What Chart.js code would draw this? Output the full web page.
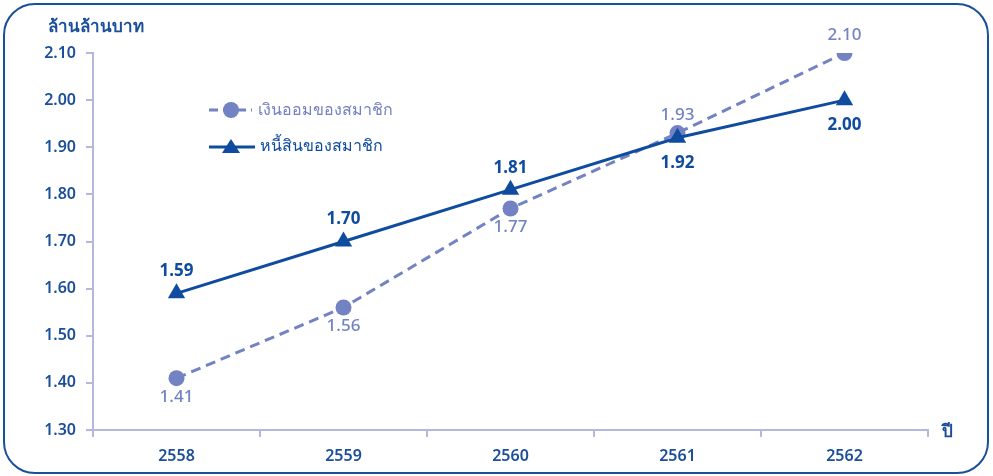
<!DOCTYPE html>
<html>
<head>
<meta charset="utf-8">
<script src="https://cdn.jsdelivr.net/npm/chart.js@4.4.1/dist/chart.umd.min.js"></script>
<style>
  html, body { margin: 0; padding: 0; background: #fff; }
  #frame {
    position: absolute; left: 3px; top: 3px; width: 982px; height: 467px;
    border: 2.5px solid #1a4f9c; border-radius: 32px;
  }
  #wrap { position: absolute; left: 0; top: 0; width: 993px; height: 476px; }
</style>
</head>
<body>
<div id="frame"></div>
<div id="wrap"><canvas id="chart"></canvas></div>
<script>
const years = ['2558', '2559', '2560', '2561', '2562'];
const savings = [1.41, 1.56, 1.77, 1.93, 2.10];
const debts = [1.59, 1.70, 1.81, 1.92, 2.00];
const savingsLabel = 'เงินออมของสมาชิก';
const debtsLabel = 'หนี้สินของสมาชิก';
// label above (-1) or below (+1) each point
const savingsLabelSide = [1, 1, 1, -1, -1];
const debtsLabelSide = [-1, -1, -1, 1, 1];

const C1 = '#7282c2';
const C2 = '#0f4ca0';
const TXT = '#1c4f9a';
const AXIS = '#b4b8dc';
const FONT = "'Noto Sans', 'Open Sans', sans-serif";

const extras = {
  id: 'extras',
  afterDatasetsDraw(chart) {
    const ctx = chart.ctx;
    ctx.save();
    // data labels
    const sides = [savingsLabelSide, debtsLabelSide];
    const gaps = [{ up: 18, down: 19 }, { up: 22, down: 25 }];
    chart.data.datasets.forEach((ds, i) => {
      const meta = chart.getDatasetMeta(i);
      ctx.fillStyle = i === 0 ? C1 : C2;
      ctx.font = (i === 0 ? '500 ' : 'bold ') + '17px ' + FONT;
      ctx.textAlign = 'center';
      ctx.textBaseline = 'middle';
      meta.data.forEach((pt, j) => {
        const s = sides[i][j];
        const dy = s > 0 ? gaps[i].down : -gaps[i].up;
        ctx.fillText(ds.data[j].toFixed(2), pt.x, pt.y + dy);
      });
    });

    // legend
    ctx.lineWidth = 3;
    ctx.strokeStyle = C1;
    ctx.setLineDash([9, 5]);
    ctx.beginPath(); ctx.moveTo(209, 110); ctx.lineTo(252, 110); ctx.stroke();
    ctx.setLineDash([]);
    ctx.fillStyle = C1;
    ctx.beginPath(); ctx.arc(231, 110, 8, 0, Math.PI * 2); ctx.fill();
    ctx.strokeStyle = C2;
    ctx.beginPath(); ctx.moveTo(209, 147); ctx.lineTo(255, 147); ctx.stroke();
    ctx.fillStyle = C2;
    ctx.beginPath(); ctx.moveTo(231, 139); ctx.lineTo(240, 153); ctx.lineTo(222, 153); ctx.closePath(); ctx.fill();
    ctx.font = '16px ' + FONT;
    ctx.textAlign = 'left';
    ctx.textBaseline = 'middle';
    ctx.fillStyle = C1;
    ctx.fillText(savingsLabel, 258, 110);
    ctx.fillStyle = C2;
    ctx.fillText(debtsLabel, 260, 146);

    // axis titles
    ctx.fillStyle = TXT;
    ctx.font = 'bold 17px ' + FONT;
    ctx.fillText('ล้านล้านบาท', 48, 27);
    ctx.fillText('ปี', 942, 432);
    ctx.restore();
  }
};

new Chart(document.getElementById('chart'), {
  type: 'line',
  data: {
    labels: years,
    datasets: [{
      label: savingsLabel,
      data: savings,
      order: 2,
      borderColor: C1,
      backgroundColor: C1,
      borderWidth: 3,
      borderDash: [10, 6],
      pointStyle: 'circle',
      pointRadius: 8,
      pointBorderWidth: 0,
      pointHoverRadius: 8,
      tension: 0
    }, {
      label: debtsLabel,
      data: debts,
      order: 1,
      borderColor: C2,
      backgroundColor: C2,
      borderWidth: 3,
      pointStyle: 'triangle',
      pointRadius: 10,
      pointBorderWidth: 0,
      pointHoverRadius: 10,
      tension: 0
    }]
  },
  options: {
    responsive: true,
    maintainAspectRatio: false,
    animation: false,
    layout: { padding: { left: 0, top: 53, right: 65, bottom: 0 } },
    scales: {
      x: {
        offset: true,
        afterFit: s => { s.height = 46; },
        grid: { offset: true, drawOnChartArea: false, tickLength: 7, color: AXIS, lineWidth: 2 },
        border: { color: AXIS, width: 2 },
        ticks: { color: TXT, font: { family: FONT, size: 16, weight: '600' }, padding: 10 }
      },
      y: {
        min: 1.3,
        max: 2.1,
        afterFit: s => { s.width = 93; },
        grid: { drawOnChartArea: false, tickLength: 7, color: AXIS, lineWidth: 2 },
        border: { color: AXIS, width: 2 },
        ticks: {
          stepSize: 0.1,
          color: TXT,
          font: { family: FONT, size: 16, weight: '600' },
          padding: 10,
          callback: v => v.toFixed(2)
        }
      }
    },
    plugins: {
      legend: { display: false },
      tooltip: { enabled: false }
    }
  },
  plugins: [extras]
});
</script>
</body>
</html>
